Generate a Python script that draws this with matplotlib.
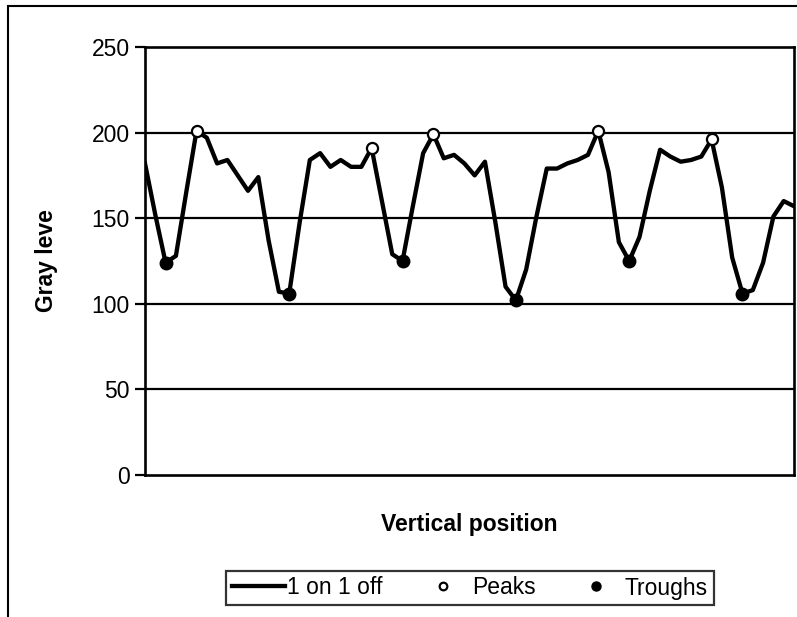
import numpy as np
import matplotlib
matplotlib.use("Agg")
import matplotlib.pyplot as plt
from matplotlib.patches import Rectangle

plt.rcParams["font.family"] = ["Liberation Sans", "DejaVu Sans"]

# gray level along the vertical position (one value per sample)
gray = [182, 152, 124, 128, 165, 201, 197, 182, 184, 175,
        166, 174, 137, 107, 106, 147, 184, 188, 180, 184,
        180, 180, 191, 160, 129, 125, 157, 188, 199, 185,
        187, 182, 175, 183, 148, 110, 102, 120, 151, 179,
        179, 182, 184, 187, 201, 177, 136, 125, 139, 166,
        190, 186, 183, 184, 186, 196, 168, 127, 106, 108,
        124, 151, 160, 157]
peak_idx = [5, 22, 28, 44, 55]
trough_idx = [2, 14, 25, 36, 47, 58]
yticks = [0, 50, 100, 150, 200, 250]

gray = np.array(gray)
pos = np.arange(len(gray))

fig = plt.figure(figsize=(7.97, 6.17), dpi=100)
ax = fig.add_axes([145 / 797, 1 - 475 / 617, 649 / 797, 428 / 617])

for v in yticks[1:-1]:
    ax.axhline(v, color="black", lw=1.6, zorder=1)

line, = ax.plot(pos, gray, color="black", lw=3.1, zorder=3, label="1 on 1 off")
pk, = ax.plot(pos[peak_idx], gray[peak_idx], "o", ms=8, mfc="white", mec="black",
              mew=1.6, zorder=4, label="Peaks")
tr, = ax.plot(pos[trough_idx], gray[trough_idx], "o", ms=9, mfc="black", mec="black",
              zorder=4, label="Troughs")

ax.set_xlim(0, len(gray) - 1)
ax.set_ylim(0, 250)
ax.set_yticks(yticks)
ax.set_xticks([])
ax.tick_params(axis="y", direction="out", length=7, width=1.6, labelsize=16.5, pad=4)
for s in ax.spines.values():
    s.set_linewidth(1.9)
    s.set_color("black")

ax.set_ylabel("Gray leve", fontsize=16.5, fontweight="bold", labelpad=24)
ax.set_xlabel("Vertical position", fontsize=16.5, fontweight="bold", labelpad=27)

leg = fig.legend(handles=[line, pk, tr], loc="center", bbox_to_anchor=(470 / 797, 1 - 588 / 617),
                 ncol=3, fontsize=16.5, frameon=True, fancybox=False, handlelength=2.3,
                 handletextpad=0.1, columnspacing=1.5, borderpad=0.25)
leg.get_frame().set_edgecolor("black")
leg.get_frame().set_linewidth(1.6)
leg.legend_handles[1].set_markersize(5.5)
leg.legend_handles[2].set_markersize(6.5)

# outer chart frame
fig.patches.append(Rectangle((8 / 797, -0.05), 1.1, 1.05 - 6 / 617, transform=fig.transFigure,
                             fill=False, edgecolor="black", lw=1.5))

fig.savefig("out.png", dpi=100)
